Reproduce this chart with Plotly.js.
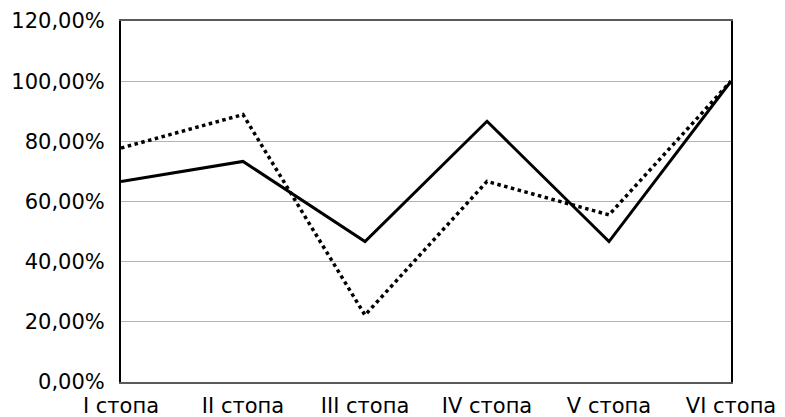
<!DOCTYPE html>
<html>
<head>
<meta charset="utf-8">
<script src="https://cdn.plot.ly/plotly-3.0.1.min.js"></script>
<style>html,body{margin:0;padding:0;background:#fff}</style>
</head>
<body>
<div id="plot" style="width:785px;height:417px"></div>
<script>
// categories
let stages = ["I стопа", "II стопа", "III стопа", "IV стопа", "V стопа", "VI стопа"];

// series values (share)
let solidVals = [0.6667, 0.7333, 0.4667, 0.8667, 0.4667, 1.0];
let dottedVals = [0.7778, 0.8889, 0.2222, 0.6667, 0.5556, 1.0];

// y ticks
let yTicks = [0, 0.2, 0.4, 0.6, 0.8, 1.0, 1.2];

let trace1 = {
  x: stages,
  y: solidVals,
  type: "scatter",
  mode: "lines",
  line: {color: "#000", width: 3},
  hoverinfo: "skip"
};

let trace2 = {
  x: stages,
  y: dottedVals,
  type: "scatter",
  mode: "lines",
  line: {color: "#000", width: 3.5, dash: "dot"},
  hoverinfo: "skip"
};

let layout = {
  width: 785,
  height: 417,
  margin: {l: 121, r: 54, t: 21, b: 35},
  showlegend: false,
  separators: ", ",
  paper_bgcolor: "#fff",
  plot_bgcolor: "#fff",
  font: {family: "DejaVu Sans, sans-serif", size: 21, color: "#000"},
  xaxis: {
    type: "category",
    range: [0, 5],
    showgrid: false,
    showline: true,
    linecolor: "#595959",
    linewidth: 2,
    mirror: true,
    ticks: "",
    tickfont: {family: "DejaVu Sans, sans-serif", size: 21, color: "#000"},
    ticklabelstandoff: 4,
    zeroline: false
  },
  yaxis: {
    range: [0, 1.2],
    tickvals: yTicks,
    tickformat: ".2%",
    tickfont: {family: "DejaVu Sans, sans-serif", size: 21, color: "#000"},
    showgrid: true,
    gridcolor: "#b3b3b3",
    gridwidth: 1,
    showline: true,
    linecolor: "#000",
    linewidth: 2,
    mirror: true,
    ticks: "",
    ticklabelstandoff: 10,
    zeroline: false
  }
};

Plotly.newPlot("plot", [trace1, trace2], layout, {staticPlot: true});
</script>
</body>
</html>
